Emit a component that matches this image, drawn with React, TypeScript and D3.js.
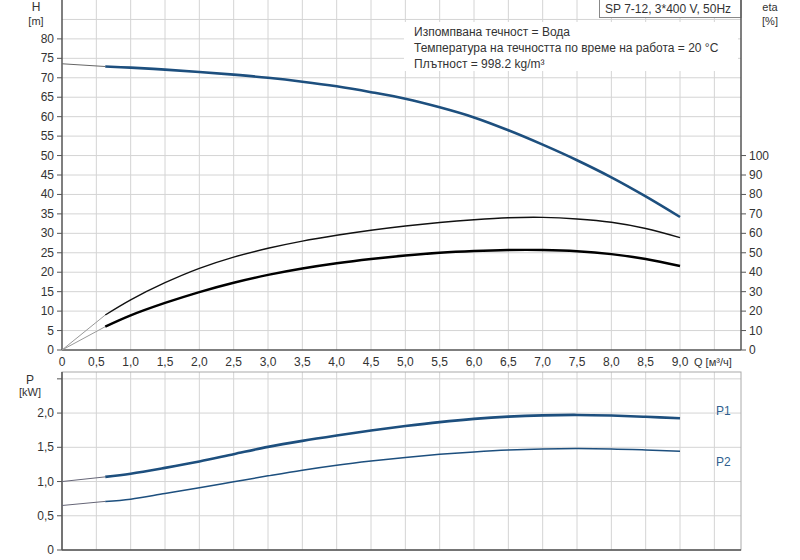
import React from "react";
import * as d3 from "d3";

// flow points (m³/h) where the solid curves run
const qValues = [0.63, 1.0, 1.5, 2.0, 2.5, 3.0, 3.5, 4.0, 4.5, 5.0, 5.5, 6.0, 6.5, 7.0, 7.5, 8.0, 8.5, 9.0];
const headValues = [72.9, 72.6, 72.1, 71.5, 70.8, 70.0, 69.0, 67.8, 66.3, 64.6, 62.4, 59.8, 56.5, 52.8, 48.8, 44.4, 39.5, 34.2];
const etaPumpValues = [18, 25.8, 34.6, 42.0, 47.8, 52.3, 56.0, 59.0, 61.6, 63.8, 65.6, 67.0, 68.0, 68.2, 67.4, 65.7, 62.5, 57.8];
const etaTotalValues = [12, 17.8, 24.2, 29.8, 34.6, 38.6, 41.9, 44.6, 46.8, 48.6, 50.0, 50.9, 51.4, 51.4, 50.8, 49.3, 46.8, 43.2];
const p1Values = [1.068, 1.115, 1.2, 1.293, 1.4, 1.506, 1.594, 1.672, 1.745, 1.81, 1.868, 1.915, 1.948, 1.967, 1.973, 1.964, 1.946, 1.924];
const p2Values = [0.71, 0.743, 0.826, 0.909, 0.996, 1.083, 1.166, 1.239, 1.3, 1.352, 1.397, 1.433, 1.461, 1.477, 1.482, 1.477, 1.462, 1.443];

// values at Q = 0 (thin lead-in segments)
const headAtZero = 73.6;
const etaAtZero = 0;
const p1AtZero = 1.0;
const p2AtZero = 0.65;

const qTicks = [0, 0.5, 1, 1.5, 2, 2.5, 3, 3.5, 4, 4.5, 5, 5.5, 6, 6.5, 7, 7.5, 8, 8.5, 9];
const qGrid = [0.5, 1, 1.5, 2, 2.5, 3, 3.5, 4, 4.5, 5, 5.5, 6, 6.5, 7, 7.5, 8, 8.5, 9, 9.5];
const hTicks = [0, 5, 10, 15, 20, 25, 30, 35, 40, 45, 50, 55, 60, 65, 70, 75, 80];
const hGrid = [5, 10, 15, 20, 25, 30, 35, 40, 45, 50, 55, 60, 65, 70, 75, 80, 85];
const etaTicks = [0, 10, 20, 30, 40, 50, 60, 70, 80, 90, 100];
const pTicks = [0, 0.5, 1.0, 1.5, 2.0];
const pGrid = [0.5, 1.0, 1.5, 2.0, 2.5];

const infoLines = [
  "Изпомпвана течност = Вода",
  "Температура на течността по време на работа = 20 °C",
  "Плътност = 998.2 kg/m³",
];
const titleText = "SP 7-12, 3*400 V, 50Hz";

const FONT = "'Liberation Sans', Arial, sans-serif";
const BLUE = "#1d4f7e";
const GRID = "#d4d4d4";
const AXIS = "#555";
const TEXT = "#333";

const fmt = (v: number) => (v === 0 ? "0" : v.toFixed(1).replace(".", ","));

export default function App() {
  const x = d3.scaleLinear().domain([0, 9.888]).range([62, 741]);
  const yH = d3.scaleLinear().domain([0, 90]).range([350, 0]);
  const yEta = d3.scaleLinear().domain([0, 180]).range([350, 0]);
  const yP = d3.scaleLinear().domain([0, 2.6]).range([550, 372]);

  const pts = (vals: number[]) => qValues.map((q, i) => [q, vals[i]] as [number, number]);
  const curve = (y: d3.ScaleLinear<number, number>) =>
    d3.line<[number, number]>().x((d) => x(d[0])).y((d) => y(d[1])).curve(d3.curveCatmullRom.alpha(0.5));
  const lead = (y: d3.ScaleLinear<number, number>, v0: number, v1: number) =>
    d3.line<[number, number]>().x((d) => x(d[0])).y((d) => y(d[1]))([[0, v0], [qValues[0], v1]]) || "";

  const lineH = curve(yH);
  const lineEta = curve(yEta);
  const lineP = curve(yP);

  return (
    <div style={{ position: "fixed", left: 0, top: 0 }}>
      <svg width={800} height={560} style={{ display: "block", background: "#fff" }} fontFamily={FONT} fontSize={12}>
        {/* upper plot grid */}
        <g stroke={GRID} strokeWidth={1}>
          {qGrid.map((q) => (
            <line key={"vu" + q} x1={x(q)} x2={x(q)} y1={0} y2={350} />
          ))}
          {hGrid.map((h) => (
            <line key={"hu" + h} x1={62} x2={741} y1={yH(h)} y2={yH(h)} />
          ))}
        </g>

        {/* info text box */}
        <rect x={404} y={22} width={334} height={49} fill="#fff" />
        {infoLines.map((t, i) => (
          <text key={t} x={414} y={36 + i * 16} fill={TEXT}>{t}</text>
        ))}

        {/* title box */}
        <rect x={599.5} y={-1} width={141.5} height={18.5} fill="#fff" stroke="#888" />
        <text x={605} y={13} fill={TEXT}>{titleText}</text>

        {/* upper axes */}
        <g stroke={AXIS} strokeWidth={1.5}>
          <line x1={62} x2={62} y1={0} y2={350} />
          <line x1={62} x2={741} y1={350} y2={350} />
          <line x1={741} x2={741} y1={0} y2={350} />
        </g>
        <g stroke={AXIS}>
          {hTicks.map((h) => (
            <line key={"ht" + h} x1={57} x2={62} y1={yH(h)} y2={yH(h)} />
          ))}
          {etaTicks.map((e) => (
            <line key={"et" + e} x1={741} x2={746} y1={yEta(e)} y2={yEta(e)} />
          ))}
        </g>
        {hTicks.map((h) => (
          <text key={"hl" + h} x={54} y={yH(h) + 4} textAnchor="end" fill={TEXT}>{h}</text>
        ))}
        {etaTicks.map((e) => (
          <text key={"el" + e} x={749} y={yEta(e) + 4} fill={TEXT}>{e}</text>
        ))}
        {qTicks.map((q) => (
          <text key={"ql" + q} x={x(q)} y={366} textAnchor="middle" fill={TEXT}>{fmt(q)}</text>
        ))}
        <text x={694} y={366} fill={TEXT} fontSize={11}>Q [м³/ч]</text>
        <text x={36} y={11} textAnchor="middle" fill={TEXT}>H</text>
        <text x={36} y={25} textAnchor="middle" fill={TEXT} fontSize={11}>[m]</text>
        <text x={770} y={11} textAnchor="middle" fill={TEXT} fontSize={11}>eta</text>
        <text x={770} y={25} textAnchor="middle" fill={TEXT} fontSize={11}>[%]</text>

        {/* upper curves */}
        <path d={lead(yH, headAtZero, headValues[0])} fill="none" stroke="#666" strokeWidth={1} />
        <path d={lineH(pts(headValues)) || ""} fill="none" stroke={BLUE} strokeWidth={2.6} />
        <path d={lead(yEta, etaAtZero, etaPumpValues[0])} fill="none" stroke="#999" strokeWidth={1} />
        <path d={lineEta(pts(etaPumpValues)) || ""} fill="none" stroke="#111" strokeWidth={1.4} />
        <path d={lead(yEta, etaAtZero, etaTotalValues[0])} fill="none" stroke="#999" strokeWidth={1} />
        <path d={lineEta(pts(etaTotalValues)) || ""} fill="none" stroke="#000" strokeWidth={2.4} />

        {/* lower plot grid */}
        <g stroke={GRID} strokeWidth={1}>
          {qGrid.map((q) => (
            <line key={"vl" + q} x1={x(q)} x2={x(q)} y1={372} y2={550} />
          ))}
          {pGrid.map((p) => (
            <line key={"pg" + p} x1={62} x2={741} y1={yP(p)} y2={yP(p)} />
          ))}
        </g>
        <rect x={62} y={372} width={679} height={178} fill="none" stroke="#aaa" />
        <g stroke={AXIS} strokeWidth={1.5}>
          <line x1={62} x2={62} y1={372} y2={550} />
          <line x1={62} x2={741} y1={550} y2={550} />
        </g>
        <g stroke={AXIS}>
          {pGrid.concat([0]).map((p) => (
            <line key={"pt" + p} x1={57} x2={62} y1={yP(p)} y2={yP(p)} />
          ))}
        </g>
        {pTicks.map((p) => (
          <text key={"pl" + p} x={54} y={yP(p) + 4} textAnchor="end" fill={TEXT}>{fmt(p)}</text>
        ))}
        <text x={30} y={384} textAnchor="middle" fill={TEXT}>P</text>
        <text x={30} y={396} textAnchor="middle" fill={TEXT} fontSize={11}>[kW]</text>

        {/* power curves */}
        <path d={lead(yP, p1AtZero, p1Values[0])} fill="none" stroke="#667" strokeWidth={1} />
        <path d={lineP(pts(p1Values)) || ""} fill="none" stroke={BLUE} strokeWidth={2.6} />
        <path d={lead(yP, p2AtZero, p2Values[0])} fill="none" stroke="#667" strokeWidth={1} />
        <path d={lineP(pts(p2Values)) || ""} fill="none" stroke={BLUE} strokeWidth={1.5} />
        <text x={716} y={415} fill="#2f5f8f">P1</text>
        <text x={716} y={466} fill="#2f5f8f">P2</text>
      </svg>
    </div>
  );
}
